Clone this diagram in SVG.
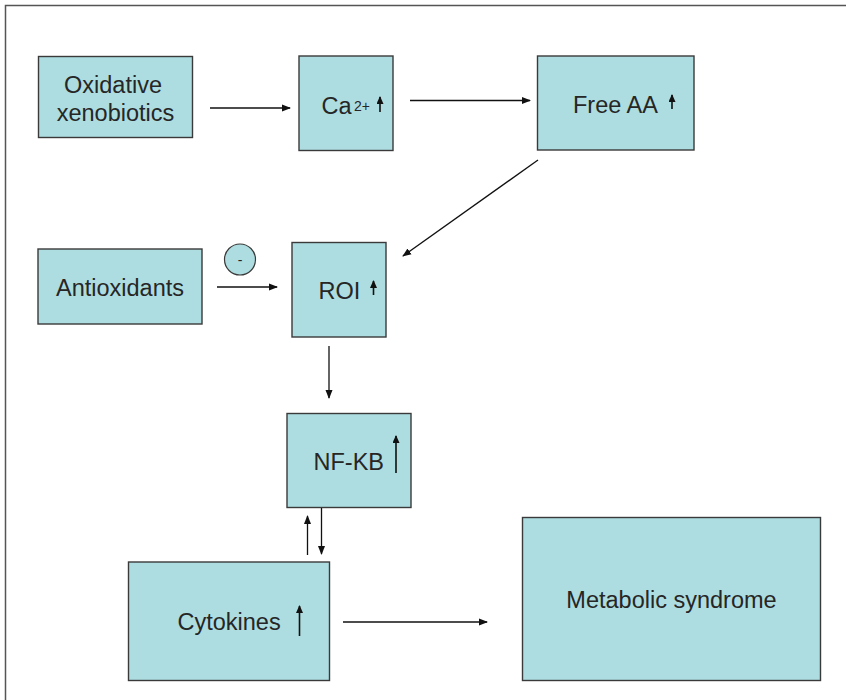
<svg xmlns="http://www.w3.org/2000/svg" width="846" height="700" viewBox="0 0 846 700">
  <style>
    .box { fill: #addde0; stroke: #3a3a3a; stroke-width: 1.4; }
    .lbl { font-family: "Liberation Sans", Arial, sans-serif; font-size: 23.5px; fill: #262626; }
    .sup { font-family: "Liberation Sans", Arial, sans-serif; font-size: 14px; fill: #262626; }
    .edge { stroke: #111; stroke-width: 1.3; fill: none; marker-end: url(#ah); }
    .up { stroke: #111; stroke-width: 1.6; fill: none; marker-end: url(#sh); }
  </style>
  <defs>
    <marker id="ah" markerUnits="userSpaceOnUse" markerWidth="9" markerHeight="8" refX="8" refY="4" orient="auto">
      <path d="M0,0.5 L9,4 L0,7.5 Z" fill="#111"/>
    </marker>
    <marker id="sh" markerUnits="userSpaceOnUse" markerWidth="8" markerHeight="7" refX="7" refY="3.5" orient="auto">
      <path d="M0,0 L8,3.5 L0,7 Z" fill="#111"/>
    </marker>
  </defs>

  <!-- page frame -->
  <path d="M5.5,700 L5.5,5.5 L846,5.5" fill="none" stroke="#555" stroke-width="1.5"/>

  <g id="oxidative">
    <rect class="box" x="38.5" y="56.5" width="154" height="81"/>
    <text class="lbl" x="113" y="93" text-anchor="middle">Oxidative</text>
    <text class="lbl" x="115.5" y="120.5" text-anchor="middle">xenobiotics</text>
  </g>

  <g id="calcium">
    <rect class="box" x="299" y="56" width="94" height="94.5"/>
    <text class="lbl" x="321.5" y="114">Ca</text>
    <text class="sup" x="354" y="110.5">2+</text>
    <line class="up" x1="380" y1="112" x2="380" y2="97"/>
  </g>

  <g id="freeaa">
    <rect class="box" x="537.5" y="56" width="156.5" height="94"/>
    <text class="lbl" x="573" y="112.5">Free AA</text>
    <line class="up" x1="672" y1="109" x2="672" y2="95"/>
  </g>

  <g id="antioxidants">
    <rect class="box" x="38" y="249" width="164" height="75"/>
    <text class="lbl" x="120" y="296" text-anchor="middle">Antioxidants</text>
  </g>

  <g id="inhibit">
    <circle cx="240" cy="259.5" r="15.5" fill="#addde0" stroke="#3a3a3a" stroke-width="1.2"/>
    <text class="sup" x="240" y="264.5" text-anchor="middle" font-size="17px">-</text>
  </g>

  <g id="roi">
    <rect class="box" x="292" y="242.5" width="94" height="94.5"/>
    <text class="lbl" x="318.5" y="298.5">ROI</text>
    <line class="up" x1="373.5" y1="295" x2="373.5" y2="281"/>
  </g>

  <g id="nfkb">
    <rect class="box" x="287" y="413.5" width="124" height="94"/>
    <text class="lbl" x="313.5" y="469.5">NF-KB</text>
    <line class="up" x1="396" y1="473" x2="396" y2="436"/>
  </g>

  <g id="cytokines">
    <rect class="box" x="128.5" y="562" width="201" height="118.5"/>
    <text class="lbl" x="177.5" y="630">Cytokines</text>
    <line class="up" x1="299.5" y1="636" x2="299.5" y2="606"/>
  </g>

  <g id="metabolic">
    <rect class="box" x="522.5" y="517.5" width="298" height="163"/>
    <text class="lbl" x="671.5" y="608" text-anchor="middle">Metabolic syndrome</text>
  </g>

  <g id="connectors">
    <line class="edge" x1="210" y1="108" x2="290" y2="108"/>
    <line class="edge" x1="410" y1="100.5" x2="530" y2="100.5"/>
    <line class="edge" x1="538" y1="160" x2="403" y2="256"/>
    <line class="edge" x1="217" y1="287" x2="277" y2="287"/>
    <line class="edge" x1="329" y1="346" x2="329" y2="398"/>
    <line class="edge" x1="307.5" y1="555" x2="307.5" y2="516"/>
    <line class="edge" x1="321.5" y1="508" x2="321.5" y2="554"/>
    <line class="edge" x1="343" y1="622" x2="487" y2="622"/>
  </g>
</svg>
